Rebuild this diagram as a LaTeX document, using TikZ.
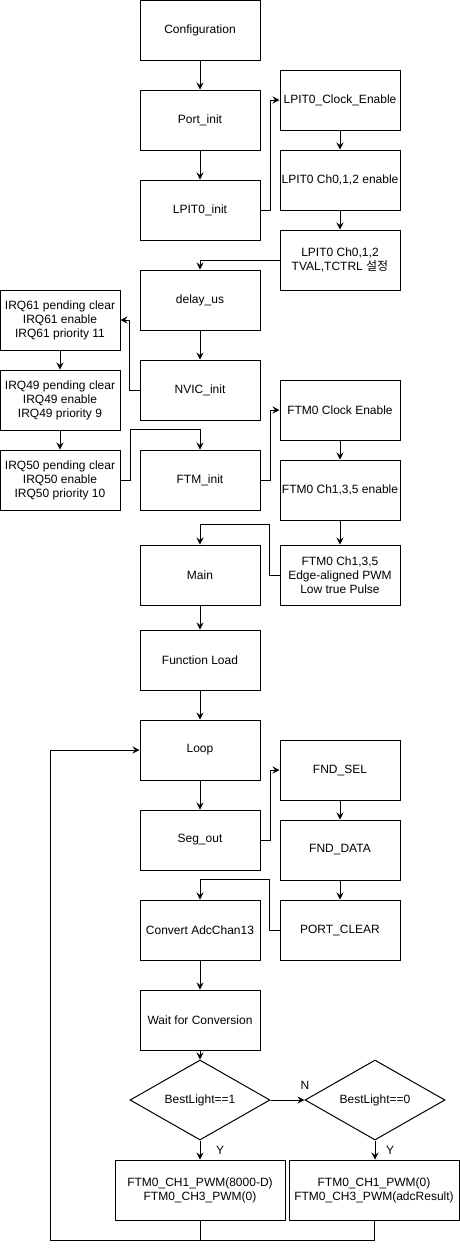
\documentclass[tikz,border=0pt]{standalone}
\usepackage{fontspec}
\setmainfont{Liberation Sans}
\newfontfamily\krfont{Noto Sans CJK KR}
\usetikzlibrary{arrows.meta,shapes.geometric,calc}
\tikzset{
  box/.style={draw=black, line width=1pt, minimum width=120pt, minimum height=60pt, inner sep=0pt, align=center, font=\fontsize{12}{14}\selectfont},
  widebox/.style={box, minimum width=170pt},
  dec/.style={draw=black, line width=1pt, diamond, minimum width=140pt, minimum height=80pt, aspect=1.75, inner sep=0pt, align=center, font=\fontsize{12}{14}\selectfont},
  arr/.style={line width=1pt, -{Stealth[length=7pt,width=7pt,inset=2.5pt]}},
  ln/.style={line width=1pt},
  lab/.style={font=\fontsize{12}{14}\selectfont, inner sep=0pt}
}
\begin{document}
\begin{tikzpicture}[x=1pt,y=-1pt]
\useasboundingbox[fill=white] (0,0) rectangle (460,1248);
% main column
\node[box] (conf) at (200,30) {Configuration};
\node[box] (port) at (200,120) {Port\_init};
\node[box] (lpit) at (200,210) {LPIT0\_init};
\node[box] (delay) at (200,300) {delay\_us};
\node[box] (nvic) at (200,390) {NVIC\_init};
\node[box] (ftm) at (200,480) {FTM\_init};
\node[box] (main) at (200,575) {Main};
\node[box] (fload) at (200,660) {Function Load};
\node[box] (loop) at (200,750) {Loop};
\node[box] (seg) at (200,840) {Seg\_out};
\node[box] (conv) at (200,930) {Convert AdcChan13};
\node[box] (wait) at (200,1020) {Wait for Conversion};
% right column
\node[box] (lclk) at (340,100) {LPIT0\_Clock\_Enable};
\node[box] (lch) at (340,180) {LPIT0 Ch0,1,2 enable};
\node[box] (ltval) at (340,260) {LPIT0 Ch0,1,2\\TVAL,TCTRL {\krfont 설정}};
\node[box] (fclk) at (340,410) {FTM0 Clock Enable};
\node[box] (fch) at (340,490) {FTM0 Ch1,3,5 enable};
\node[box] (fedge) at (340,575) {FTM0 Ch1,3,5\\Edge-aligned PWM\\Low true Pulse};
\node[box] (fsel) at (340,770) {FND\_SEL};
\node[box] (fdata) at (340,850) {FND\_DATA};
\node[box] (pclr) at (340,930) {PORT\_CLEAR};
% left column
\node[box] (irq61) at (60,320) {IRQ61 pending clear\\IRQ61 enable\\IRQ61 priority 11};
\node[box] (irq49) at (60,400) {IRQ49 pending clear\\IRQ49 enable\\IRQ49 priority 9};
\node[box] (irq50) at (60,480) {IRQ50 pending clear\\IRQ50 enable\\IRQ50 priority 10};
% decisions
\node[dec] (d1) at (200,1100) {BestLight==1};
\node[dec] (d2) at (375,1100) {BestLight==0};
\node[widebox] (b1) at (200,1190) {FTM0\_CH1\_PWM(8000-D)\\FTM0\_CH3\_PWM(0)};
\node[widebox] (b2) at (374,1190) {FTM0\_CH1\_PWM(0)\\FTM0\_CH3\_PWM(adcResult)};
\node[lab] (nlab) at (305,1085) {N};
\node[lab] (y1) at (220,1150) {Y};
\node[lab] (y2) at (390,1150) {Y};
\coordinate (lb) at (50,1240);
% connectors
\draw[arr] (conf) -- (port);
\draw[arr] (port) -- (lpit);
\draw[arr] (lpit.east) -- ++(10,0) |- (lclk.west);
\draw[arr] (lclk) -- (lch);
\draw[arr] (lch) -- (ltval);
\draw[arr] (ltval.west) -| (delay.north);
\draw[arr] (delay) -- (nvic);
\draw[arr] (nvic.west) -- ++(-10,0) |- (irq61.east);
\draw[arr] (irq61) -- (irq49);
\draw[arr] (irq49) -- (irq50);
\draw[arr] (irq50.east) -- ++(10,0) |- ([yshift=20pt]ftm.north) -- (ftm.north);
\draw[arr] (ftm.east) -- ++(10,0) |- (fclk.west);
\draw[arr] (fclk) -- (fch);
\draw[arr] (fch) -- (fedge);
\draw[arr] (fedge.west) -- ++(-10,0) |- ([yshift=20pt]main.north) -- (main.north);
\draw[arr] (main) -- (fload);
\draw[arr] (fload) -- (loop);
\draw[arr] (loop) -- (seg);
\draw[arr] (seg.east) -- ++(10,0) |- (fsel.west);
\draw[arr] (fsel) -- (fdata);
\draw[arr] (fdata) -- (pclr);
\draw[arr] (pclr.west) -- ++(-10,0) |- ([yshift=20pt]conv.north) -- (conv.north);
\draw[arr] (conv) -- (wait);
\draw[arr] (wait.south) -- (d1.north);
\draw[arr] (d1.east) -- (d2.west);
\draw[arr] (d1.south) -- (b1.north);
\draw[arr] (d2.south) -- (d2.south |- b2.north);
\draw[ln] (b1.south) -- (b1.south |- lb);
\draw[arr] (b2.south) |- (lb) |- (loop.west);
\end{tikzpicture}
\end{document}
